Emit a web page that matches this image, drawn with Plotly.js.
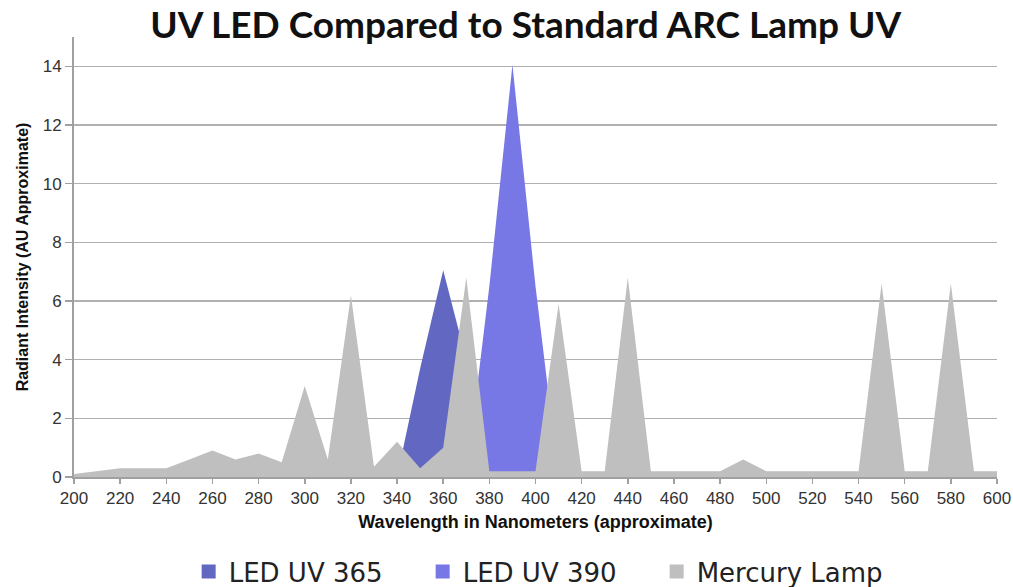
<!DOCTYPE html>
<html>
<head>
<meta charset="utf-8">
<script src="https://cdn.plot.ly/plotly-3.0.1.min.js"></script>
<style>html,body{margin:0;padding:0;background:#fff;}#chart{width:1013px;height:587px;}</style>
</head>
<body>
<div id="chart"></div>
<script>
// Wavelength categories (nm)
const wavelengths = [200,210,220,230,240,250,260,270,280,290,300,310,320,330,340,350,360,370,380,390,400,410,420,430,440,450,460,470,480,490,500,510,520,530,540,550,560,570,580,590,600];

// LED UV 365 series
const led365 = [0,0,0,0,0,0,0,0,0,0,0,0,0,0,0,3.7,7.05,4.0,0,0,0,0,0,0,0,0,0,0,0,0,0,0,0,0,0,0,0,0,0,0,0];

// LED UV 390 series
const led390 = [0,0,0,0,0,0,0,0,0,0,0,0,0,0,0,0,0,0,6.5,14.05,6.5,0,0,0,0,0,0,0,0,0,0,0,0,0,0,0,0,0,0,0,0];

// Mercury Lamp series
const mercury = [0.1,0.2,0.3,0.3,0.3,0.6,0.9,0.6,0.8,0.5,3.1,0.6,6.2,0.35,1.2,0.3,1.0,6.8,0.2,0.2,0.2,5.9,0.2,0.2,6.8,0.2,0.2,0.2,0.2,0.6,0.2,0.2,0.2,0.2,0.2,6.6,0.2,0.2,6.6,0.2,0.2];

const seriesNames = ['LED UV 365','LED UV 390','Mercury Lamp'];
const seriesColors = ['#6267c1','#7777e5','#bfbfbf'];
const seriesValues = [led365, led390, mercury];

const xTickVals = [200,220,240,260,280,300,320,340,360,380,400,420,440,460,480,500,520,540,560,580,600];
const yTickVals = [0,2,4,6,8,10,12,14];

const traces = [];
seriesValues.forEach((vals, i) => {
  traces.push({
    type: 'scatter', mode: 'lines', x: wavelengths, y: vals,
    fill: 'tozeroy', fillcolor: seriesColors[i],
    line: {width: 0, color: seriesColors[i]},
    name: seriesNames[i], showlegend: false, hoverinfo: 'x+y+name'
  });
});
// legend-only entries (square swatches)
seriesNames.forEach((n, i) => {
  traces.push({
    type: 'scatter', mode: 'markers', x: [null], y: [null], name: n,
    marker: {symbol: 'square', size: 14, color: seriesColors[i]},
    showlegend: true, hoverinfo: 'skip'
  });
});

const layout = {
  width: 1013, height: 587,
  margin: {l: 74, r: 16, t: 37, b: 110, autoexpand: false},
  paper_bgcolor: '#ffffff', plot_bgcolor: '#ffffff',
  title: {
    text: 'UV LED Compared to Standard ARC Lamp UV',
    font: {family: 'Lato, DejaVu Sans, sans-serif', size: 37, color: '#111', weight: 'bold'},
    xref: 'container', x: 0.519, xanchor: 'center',
    yref: 'container', y: 0.958, yanchor: 'middle'
  },
  xaxis: {
    range: [200, 600], tickmode: 'array', tickvals: xTickVals,
    ticks: 'outside', ticklen: 5, tickwidth: 1.5, tickcolor: '#a0a0a0',
    showgrid: false, zeroline: false,
    showline: true, linecolor: '#a0a0a0', linewidth: 2,
    tickfont: {family: 'Liberation Sans, Arial, sans-serif', size: 17, color: '#333'},
    title: {text: 'Wavelength in Nanometers (approximate)', standoff: 8,
            font: {family: 'Liberation Sans, Arial, sans-serif', size: 18, color: '#111', weight: 'bold'}}
  },
  yaxis: {
    range: [0, 15], tickmode: 'array', tickvals: yTickVals,
    ticks: 'outside', ticklen: 7, tickwidth: 1.5, tickcolor: '#a0a0a0',
    showgrid: true, gridcolor: '#b0b0b0', gridwidth: 1.5, zeroline: false,
    showline: true, linecolor: '#a0a0a0', linewidth: 2,
    tickfont: {family: 'Liberation Sans, Arial, sans-serif', size: 17, color: '#333'},
    title: {text: 'Radiant Intensity (AU Approximate)', standoff: 10,
            font: {family: 'Liberation Sans, Arial, sans-serif', size: 16, color: '#111', weight: 'bold'}}
  },
  legend: {
    orientation: 'h', x: 0.5045, xanchor: 'center', y: -0.215, yanchor: 'middle',
    font: {family: 'DejaVu Sans', size: 26, color: '#222'},
    itemwidth: 30, entrywidthmode: 'pixels', entrywidth: 189,
    bgcolor: 'rgba(0,0,0,0)'
  },
  showlegend: true
};

Plotly.newPlot('chart', traces, layout, {displayModeBar: false, staticPlot: true});
</script>
</body>
</html>
